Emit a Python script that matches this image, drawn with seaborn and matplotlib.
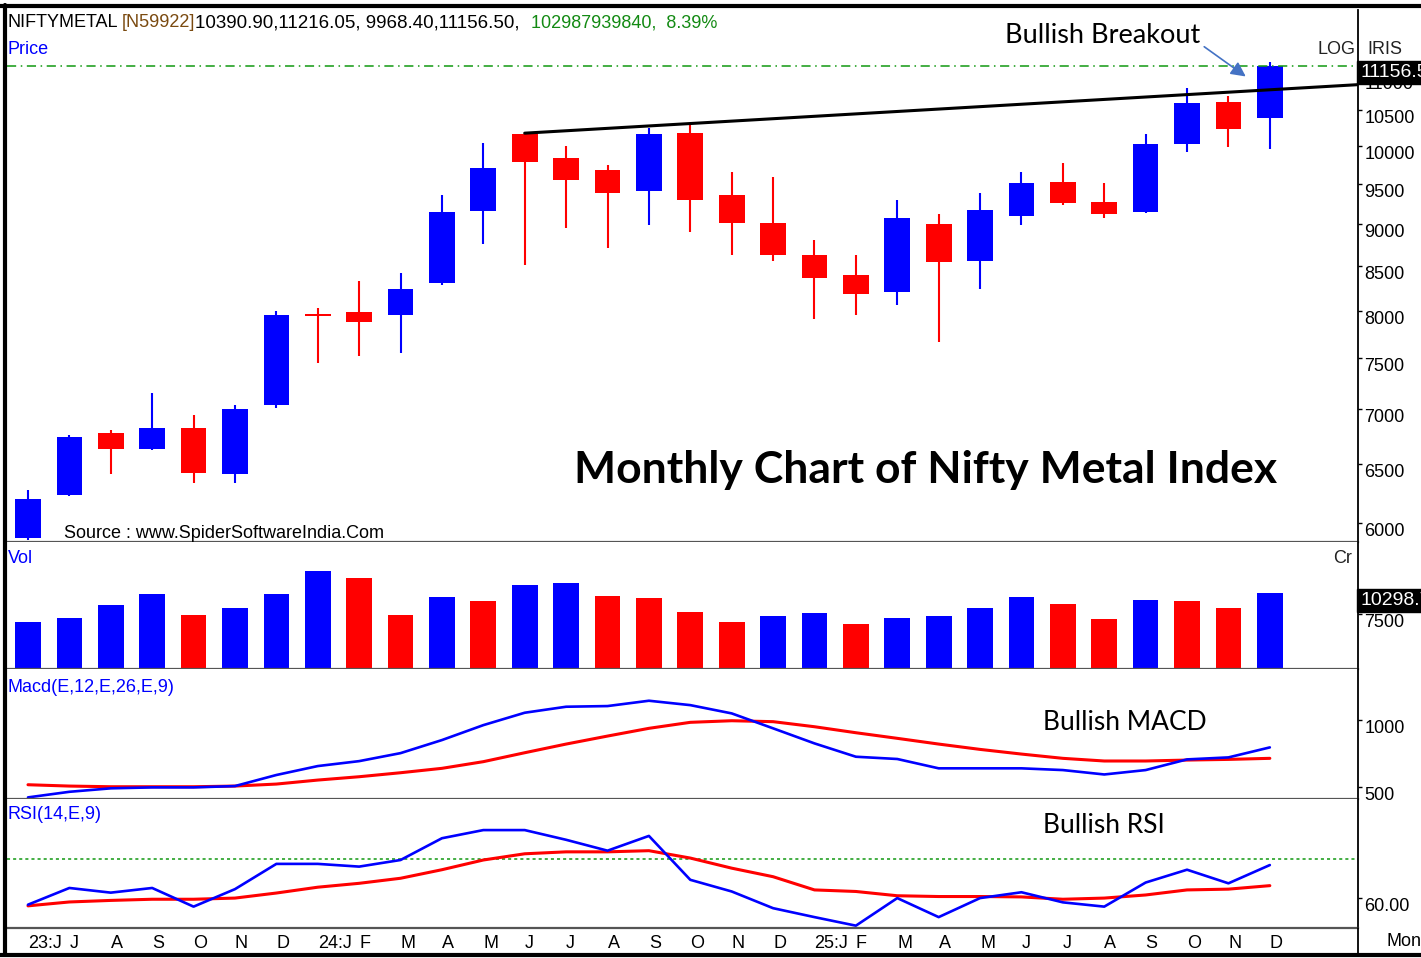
import matplotlib
matplotlib.use("Agg")
import matplotlib.pyplot as plt
from matplotlib.lines import Line2D
from matplotlib.ticker import FixedLocator, NullLocator, NullFormatter
import numpy as np
import pandas as pd
import seaborn as sns

# %% data (monthly, Jun-2023 .. Dec-2025)
months = ["23:J", "J", "A", "S", "O", "N", "D",
          "24:J", "F", "M", "A", "M", "J", "J", "A", "S", "O", "N", "D",
          "25:J", "F", "M", "A", "M", "J", "J", "A", "S", "O", "N", "D"]

open_ = [5879, 6233, 6780, 6634, 6827, 6413, 7043, 7970, 7991, 7960, 8313, 9154,
         10173, 9839, 9680, 9407, 10187, 9356, 9007, 8624, 8404, 8212, 8995, 8565,
         9104, 9524, 9268, 9142, 10025, 10622, 10390.90]
high = [6275, 6762, 6808, 7159, 6948, 7043, 8003, 8036, 8336, 8416, 9356, 10041,
        10200, 9998, 9745, 10257, 10300, 9652, 9589, 8802, 8635, 9293, 9117, 9382,
        9652, 9772, 9511, 10173, 10825, 10707, 11216.05]
low = [5863, 6225, 6413, 6620, 6335, 6335, 7015, 7457, 7528, 7559, 8290, 8764,
       8508, 8946, 8706, 8982, 8897, 8635, 8565, 7917, 7960, 8068, 7673, 8245,
       8982, 9236, 9068, 9130, 9917, 9985, 9968.40]
close = [6199, 6744, 6634, 6827, 6422, 7005, 7960, 7940, 7884, 8245, 9142, 9705,
         9785, 9549, 9382, 10173, 9293, 9007, 8624, 8370, 8190, 9068, 8543, 9168,
         9511, 9255, 9117, 10025, 10607, 10242, 11156.50]

volume = [6411, 6956, 8730, 10230, 7366, 8320, 10230, 13367, 12412, 7366, 9821, 9275,
          11458, 11730, 9957, 9684, 7775, 6411, 7229, 7638, 6138, 6956, 7229, 8320,
          9821, 8866, 6820, 9412, 9275, 8320, 10298.7]
vol_dir = ["B", "B", "B", "B", "R", "B", "B", "B", "R", "R", "B", "R", "B", "B", "R", "R",
           "R", "R", "B", "B", "R", "B", "B", "B", "B", "R", "R", "B", "R", "R", "B"]

macd = [420, 462, 488, 495, 495, 505, 588, 655, 692, 752, 850, 962, 1055, 1100, 1105,
        1145, 1112, 1050, 938, 825, 725, 708, 638, 638, 638, 625, 592, 625, 705, 720, 795]
macd_signal = [515, 505, 500, 500, 500, 505, 520, 550, 575, 605, 638, 688, 755, 820, 880,
               938, 983, 995, 988, 950, 905, 863, 820, 780, 745, 713, 693, 693, 700, 705, 713]

rsi = [58.3, 62.6, 61.4, 62.6, 57.8, 62.3, 68.8, 68.8, 68.1, 69.8, 75.4, 77.5, 77.5, 75.0,
       72.2, 76.0, 64.7, 61.7, 57.4, 55.1, 52.9, 60.0, 55.1, 60.0, 61.5, 58.9, 57.8, 64.0,
       67.3, 63.8, 68.5]
rsi_signal = [58.0, 59.0, 59.4, 59.7, 59.7, 60.0, 61.3, 62.8, 63.8, 65.1, 67.3, 69.8, 71.4,
              71.9, 71.9, 72.2, 70.3, 67.7, 65.5, 62.1, 61.7, 60.6, 60.4, 60.4, 60.3, 59.7,
              60.0, 60.8, 62.1, 62.3, 63.2]

trend_x = [12, 32.2]
trend_y = [10180, 10875]

price_ticks = [6000, 6500, 7000, 7500, 8000, 8500, 9000, 9500, 10000, 10500, 11000]

# %% styling
BLUE, RED = "#0000FF", "#FF0000"
sns.set_style("white")
plt.rcParams["font.family"] = ["Liberation Sans", "DejaVu Sans"]
for key in ("text.color", "axes.labelcolor", "xtick.color", "ytick.color"):
    plt.rcParams[key] = "black"
NARROW = dict(family=["Liberation Sans", "DejaVu Sans"])
CAL = dict(family=["Lato", "Open Sans", "DejaVu Sans"])
FS = 13

df = pd.DataFrame({"x": np.arange(len(months)), "open": open_, "high": high,
                   "low": low, "close": close, "vol": volume, "vdir": vol_dir,
                   "macd": macd, "signal": macd_signal, "rsi": rsi, "rsi_sig": rsi_signal})
df["up"] = df["close"] >= df["open"]
candle_col = np.where(df["up"], BLUE, RED)

W, H = 1421, 958
fig = plt.figure(figsize=(W / 100, H / 100), dpi=100)


def panel(top, bottom, **kw):
    return fig.add_axes([7 / W, 1 - bottom / H, 1351 / W, (bottom - top) / H], **kw)


ax_p = panel(10, 542)
ax_v = panel(542, 669, sharex=ax_p)
ax_m = panel(669, 799, sharex=ax_p)
ax_r = panel(799, 928, sharex=ax_p)

# %% price panel
ax_p.set_yscale("log")
ax_p.vlines(df["x"], df["low"], df["high"], color=candle_col, lw=1.5)
ax_p.bar(df["x"], (df["close"] - df["open"]).abs(), bottom=df[["open", "close"]].min(axis=1),
         width=0.62, color=candle_col, linewidth=0)
sns.lineplot(x=trend_x, y=trend_y, ax=ax_p, color="black", lw=2.2)
ax_p.axhline(close[-1], color="#119911", lw=1.1, ls=(0, (6, 3, 1, 3)))
ax_p.set_ylim(5847, 12031)
ax_p.yaxis.set_major_locator(FixedLocator(price_ticks))
ax_p.set_yticklabels([str(t) for t in price_ticks])
ax_p.yaxis.set_minor_locator(NullLocator())
ax_p.yaxis.set_minor_formatter(NullFormatter())

ax_p.text(0.0007, 0.9756, "NIFTYMETAL", transform=ax_p.transAxes, va="center", fontsize=FS, **NARROW)
ax_p.text(0.0851, 0.9756, "[N59922]", transform=ax_p.transAxes, va="center", fontsize=FS,
          color="#7a4a10", **NARROW)
ax_p.text(0.1392, 0.9756, "10390.90,11216.05, 9968.40,11156.50,", transform=ax_p.transAxes,
          va="center", fontsize=FS + 0.5, **NARROW)
ax_p.text(0.3879, 0.9756, "102987939840,  8.39%", transform=ax_p.transAxes, va="center",
          fontsize=FS, color="#138a13", **NARROW)
ax_p.text(0.0007, 0.925, "Price", transform=ax_p.transAxes, va="center", fontsize=FS,
          color=BLUE, **NARROW)
ax_p.text(0.998, 0.925, "LOG", transform=ax_p.transAxes, va="center", ha="right",
          fontsize=FS, color="#222222", **NARROW)
ax_p.text(1.0067, 0.925, "IRIS", transform=ax_p.transAxes, va="center", fontsize=FS,
          color="#222222", clip_on=False, **NARROW)
ax_p.text(0.0422, 0.0169, "Source : www.SpiderSoftwareIndia.Com", transform=ax_p.transAxes,
          va="center", fontsize=FS, **NARROW)
ax_p.text(0.4197, 0.1353, "Monthly Chart of Nifty Metal Index", transform=ax_p.transAxes,
          va="center", fontsize=32, fontweight="bold", color="black", **CAL)
ax_p.text(0.7387, 0.953, "Bullish Breakout", transform=ax_p.transAxes, va="center",
          fontsize=19.5, **CAL)
ax_p.annotate("", xy=(0.9186, 0.872), xytext=(0.8845, 0.934), xycoords="axes fraction",
              arrowprops=dict(arrowstyle="-|>", color="#4472C4", lw=1.2, mutation_scale=22))
ax_p.annotate(f"{close[-1]:.1f}", xy=(1.0, close[-1]), xycoords=("axes fraction", "data"),
              xytext=(1.5, 1), textcoords="offset points", va="top", ha="left",
              fontsize=FS + 1, color="white", annotation_clip=False, zorder=10,
              bbox=dict(boxstyle="square,pad=0.15", fc="black", ec="black"), **NARROW)

# %% volume panel
vcol = [BLUE if d == "B" else RED for d in df["vdir"]]
ax_v.bar(df["x"], df["vol"], width=0.62, color=vcol, linewidth=0)
ax_v.set_ylim(0, 17320)
ax_v.set_yticks([7500])
ax_v.set_yticklabels(["7500"])
ax_v.text(0.0007, 0.874, "Vol", transform=ax_v.transAxes, va="center", fontsize=FS,
          color=BLUE, **NARROW)
ax_v.text(0.9956, 0.874, "Cr", transform=ax_v.transAxes, va="center", ha="right",
          fontsize=FS, color="#222222", **NARROW)
ax_v.annotate(f"{volume[-1]:.1f}", xy=(1.0, volume[-1]), xycoords=("axes fraction", "data"),
              xytext=(1.5, 1), textcoords="offset points", va="top", ha="left",
              fontsize=FS + 1, color="white", annotation_clip=False, zorder=10,
              bbox=dict(boxstyle="square,pad=0.15", fc="black", ec="black"), **NARROW)

# %% MACD panel
sns.lineplot(data=df, x="x", y="signal", ax=ax_m, color=RED, lw=2.2)
sns.lineplot(data=df, x="x", y="macd", ax=ax_m, color=BLUE, lw=1.9)
ax_m.set_ylim(408, 1383)
ax_m.set_yticks([500, 1000])
ax_m.set_yticklabels(["500", "1000"])
ax_m.text(0.0007, 0.8615, "Macd(E,12,E,26,E,9)", transform=ax_m.transAxes, va="center",
          fontsize=FS, color=BLUE, **NARROW)
ax_m.text(0.7668, 0.592, "Bullish MACD", transform=ax_m.transAxes, va="center",
          fontsize=19, **CAL)

# %% RSI panel
ax_r.axhline(70, color="#119911", lw=1.1, ls=(0, (2, 2)))
sns.lineplot(data=df, x="x", y="rsi_sig", ax=ax_r, color=RED, lw=2.2)
sns.lineplot(data=df, x="x", y="rsi", ax=ax_r, color=BLUE, lw=1.9)
ax_r.set_ylim(52.3, 85.5)
ax_r.set_yticks([60])
ax_r.set_yticklabels(["60.00"])
ax_r.text(0.0007, 0.876, "RSI(14,E,9)", transform=ax_r.transAxes, va="center",
          fontsize=FS, color=BLUE, **NARROW)
ax_r.text(0.7668, 0.798, "Bullish RSI", transform=ax_r.transAxes, va="center",
          fontsize=19, **CAL)

# %% common axis styling
ax_p.set_xlim(-0.507, 32.13)
ax_r.set_xticks(df["x"])
ax_r.set_xticklabels(months)
for lbl in ax_r.get_xticklabels():
    lbl.set_ha("left")
    lbl.set_fontsize(FS)
ax_r.tick_params(axis="x", length=0, pad=5)

for ax in (ax_p, ax_v, ax_m, ax_r):
    ax.set_xlabel("")
    ax.set_ylabel("")
    ax.yaxis.tick_right()
    ax.tick_params(axis="y", which="major", direction="out", length=3, width=1,
                   pad=1.5, labelsize=FS, colors="black")
    for lbl in ax.get_yticklabels():
        lbl.set_va("top")
    ax.spines["left"].set_visible(False)
    ax.spines["top"].set_visible(False)
    ax.spines["right"].set_color("black")
    ax.spines["right"].set_linewidth(1.3)
    ax.spines["bottom"].set_color("#555555")
    ax.spines["bottom"].set_linewidth(1.6)
    if ax is not ax_r:
        ax.tick_params(axis="x", labelbottom=False, length=0)

fig.text(1387 / W, 1 - 942 / H, "Mon", va="center", fontsize=FS, **NARROW)

# outer frame
fig.add_artist(Line2D([5 / W, 5 / W], [1 - 5 / H, 1 - 955 / H], color="black", lw=3,
                      transform=fig.transFigure))
fig.add_artist(Line2D([0, 1], [1 - 6 / H, 1 - 6 / H], color="black", lw=3,
                      transform=fig.transFigure))
fig.add_artist(Line2D([0, 1], [1 - 955 / H, 1 - 955 / H], color="black", lw=3,
                      transform=fig.transFigure))
fig.add_artist(Line2D([1358 / W, 1358 / W], [1 - 928 / H, 1 - 955 / H], color="black",
                      lw=1.3, transform=fig.transFigure))

fig.savefig("out.png", dpi=100, facecolor="white")
